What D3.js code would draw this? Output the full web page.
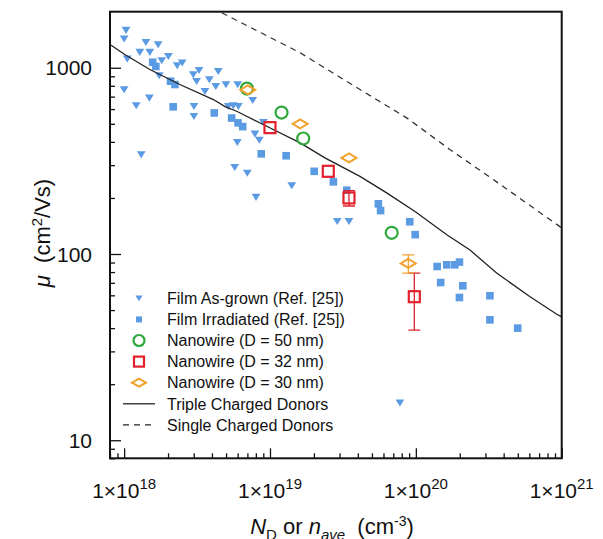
<!DOCTYPE html>
<html>
<head>
<meta charset="utf-8">
<script src="https://cdn.jsdelivr.net/npm/d3@7"></script>
<style>
  body { margin: 0; background: #fff; }
  svg { font-family: "Liberation Sans", Arial, Helvetica, sans-serif; }
</style>
</head>
<body>
<svg id="chart" width="603" height="539"></svg>
<script>
// data: [N (cm^-3), mobility (cm2/Vs)]
var filmAsGrown = [
  [1.03e18, 1592], [1.0e18, 1431], [1.41e18, 1372], [1.71e18, 1334], [1.28e18, 1213],
  [1.5e18, 1213], [1.05e18, 1117], [1.81e18, 1094], [2.01e18, 1153], [2.31e18, 1028],
  [2.5e18, 1063], [1.74e18, 908], [2.98e18, 920], [3.26e18, 970], [3.14e18, 847],
  [3.84e18, 865], [4.42e18, 958], [3.58e18, 748], [4.25e18, 796], [4.99e18, 813],
  [6.01e18, 813], [1.0e18, 764], [1.21e18, 627], [1.49e18, 689], [3.01e18, 621],
  [3.01e18, 549], [5.18e18, 621], [5.6e18, 627], [6.07e18, 621], [7.61e18, 669],
  [5.97e18, 398], [7.89e18, 442], [8.45e18, 409], [1.31e18, 342], [5.73e18, 292],
  [6.99e18, 272], [9.0e18, 510], [8.02e18, 202], [1.41e19, 233], [2.89e19, 150],
  [3.48e19, 150], [7.78e19, 15.9]
];
var filmIrradiated = [
  [1.57e18, 1071], [1.65e18, 1016], [2.08e18, 847], [2.23e18, 813], [2.17e18, 617],
  [4.15e18, 572], [5.46e18, 537], [6.04e18, 506], [6.5e18, 483], [8.71e18, 345],
  [1.29e19, 337], [2.01e19, 278], [2.72e19, 244], [3.36e19, 220], [5.53e19, 186],
  [5.73e19, 171], [9.08e19, 149], [9.9e19, 127], [1.4e20, 85.7], [1.63e20, 87.5],
  [1.85e20, 87.5], [1.99e20, 90.5], [1.48e20, 70.3], [2.1e20, 67.5], [1.99e20, 58.4],
  [3.22e20, 59.7], [3.22e20, 44.3], [4.99e20, 40]
];
// [N, mobility, error]
var nw50 = [[6.95e18, 773, 0], [1.2e19, 575, 0], [1.69e19, 417, 0], [6.83e19, 130, 0]];
var nw32 = [[1.0e19, 477, 0], [2.51e19, 278, 0], [3.48e19, 200, 19], [9.76e19, 59, 20]];
var nw30 = [[7.05e18, 761, 0], [1.61e19, 500, 0], [3.48e19, 328, 0], [8.88e19, 89, 10]];

var tripleDonors = [
  [8e17, 1334], [1.01e18, 1178], [1.5e18, 979], [2.41e18, 813], [4.09e18, 675],
  [4.92e18, 619], [5.91e18, 584], [9.5e18, 485], [1.61e19, 395], [2.38e19, 328],
  [4.14e19, 261], [6.31e19, 213], [9.87e19, 169], [1.63e20, 127], [2.35e20, 105],
  [3.58e20, 79], [6.07e20, 59], [9.25e20, 47.5], [1e21, 46]
];
var singleDonors = [
  [4.0e18, 2100], [1.61e19, 1203], [4.14e19, 764], [8.66e19, 538], [1.71e20, 364],
  [3.4e20, 251], [1e21, 138]
];

var xMajor = [1e18, 1e19, 1e20, 1e21];
var xExponents = ["18", "19", "20", "21"];
var yMajor = [10, 100, 1000];
var yLabels = ["10", "100", "1000"];

var legendLabels = [
  "Film As-grown (Ref. [25])",
  "Film Irradiated (Ref. [25])",
  "Nanowire (D = 50 nm)",
  "Nanowire (D = 32 nm)",
  "Nanowire (D = 30 nm)",
  "Triple Charged Donors",
  "Single Charged Donors"
];

var blue = "#5b9be3", green = "#2ea83a", red = "#e3202c", orange = "#f2a12c";

// plot box (window.top is reserved, so no plain "top")
var boxL = 110, boxR = 561.7, boxT = 11.7, boxB = 458.3;

var x = d3.scaleLog().domain([8e17, 1e21]).range([boxL, boxR]);
var y = d3.scaleLog().domain([8, 2000]).range([boxB, boxT]);

var svg = d3.select("#chart");

svg.append("clipPath").attr("id", "plotclip")
  .append("rect").attr("x", boxL).attr("y", boxT)
  .attr("width", boxR - boxL).attr("height", boxB - boxT);

// minor tick values
var xMinor = [];
for (var d = 17; d <= 20; d++) {
  for (var k = 2; k <= 9; k++) {
    var v = k * Math.pow(10, d);
    if (v >= 8e17 && v < 1e21) xMinor.push(v);
  }
}
var yMinor = [];
for (var d2 = 0; d2 <= 3; d2++) {
  for (var k2 = 2; k2 <= 9; k2++) {
    var v2 = k2 * Math.pow(10, d2);
    if (v2 >= 8 && v2 < 2000) yMinor.push(v2);
  }
}

// axes (ticks inward)
function drawAxis(axis, tx, ty) {
  var g = svg.append("g").attr("transform", "translate(" + tx + "," + ty + ")").call(axis);
  g.select(".domain").remove();
  g.selectAll("line").attr("stroke", "#111").attr("stroke-width", 1.3);
  return g;
}
drawAxis(d3.axisBottom(x).tickValues(xMajor).tickSize(-10).tickFormat(""), 0, boxB);
drawAxis(d3.axisBottom(x).tickValues(xMinor).tickSize(-5).tickFormat(""), 0, boxB);
drawAxis(d3.axisLeft(y).tickValues(yMajor).tickSize(-11).tickFormat(""), boxL, 0);
drawAxis(d3.axisLeft(y).tickValues(yMinor).tickSize(-5).tickFormat(""), boxL, 0);

// tick labels
var xl = svg.append("g").selectAll("text").data(xMajor).enter().append("text")
  .attr("x", function(v) { return x(v); })
  .attr("y", 498)
  .attr("text-anchor", "middle")
  .attr("font-size", 21)
  .attr("fill", "#111");
xl.append("tspan").text("1×10");
xl.append("tspan").attr("dy", -9).attr("font-size", 15)
  .text(function(v, i) { return xExponents[i]; });

svg.append("g").selectAll("text").data(yMajor).enter().append("text")
  .attr("x", 92)
  .attr("y", function(v) { return y(v); })
  .attr("dy", "0.36em")
  .attr("text-anchor", "end")
  .attr("font-size", 21)
  .attr("fill", "#111")
  .text(function(v, i) { return yLabels[i]; });

// axis titles
var xt = svg.append("text").attr("x", 332).attr("y", 534)
  .attr("text-anchor", "middle").attr("font-size", 22).attr("fill", "#111");
xt.append("tspan").attr("font-style", "italic").text("N");
xt.append("tspan").attr("dy", 6).attr("font-size", 15).text("D");
xt.append("tspan").attr("dy", -6).text(" or ");
xt.append("tspan").attr("font-style", "italic").text("n");
xt.append("tspan").attr("dy", 6).attr("font-size", 15).attr("font-style", "italic").text("ave");
xt.append("tspan").attr("dy", -6).text("\u00a0\u00a0(cm");
xt.append("tspan").attr("dy", -8).attr("font-size", 14).text("-3");
xt.append("tspan").attr("dy", 8).text(")");

var yt = svg.append("text")
  .attr("transform", "translate(50,233) rotate(-90)")
  .attr("text-anchor", "middle").attr("font-size", 22).attr("fill", "#111");
yt.append("tspan").attr("font-style", "italic").text("μ");
yt.append("tspan").text("\u00a0\u00a0(cm");
yt.append("tspan").attr("dy", -8).attr("font-size", 15).text("2");
yt.append("tspan").attr("dy", 8).text("/Vs)");

// marker shapes
function triDown(s) { return "M" + (-s) + "," + (-s * 0.75) + "L" + s + "," + (-s * 0.75) + "L0," + (s * 0.85) + "Z"; }
function diamond(w, h) { return "M" + (-w) + ",0L0," + (-h) + "L" + w + ",0L0," + h + "Z"; }

var plot = svg.append("g").attr("clip-path", "url(#plotclip)");

plot.selectAll(".tri").data(filmAsGrown).enter().append("path")
  .attr("class", "tri")
  .attr("transform", function(p) { return "translate(" + x(p[0]) + "," + y(p[1]) + ")"; })
  .attr("d", triDown(4.4))
  .attr("fill", blue);

plot.selectAll(".sq").data(filmIrradiated).enter().append("rect")
  .attr("class", "sq")
  .attr("x", function(p) { return x(p[0]) - 3.8; })
  .attr("y", function(p) { return y(p[1]) - 3.8; })
  .attr("width", 7.6).attr("height", 7.6)
  .attr("fill", blue);

// model lines
var line = d3.line().x(function(p) { return x(p[0]); }).y(function(p) { return y(p[1]); });
plot.append("path").datum(tripleDonors).attr("d", line)
  .attr("fill", "none").attr("stroke", "#222").attr("stroke-width", 1.3);
plot.append("path").datum(singleDonors).attr("d", line)
  .attr("fill", "none").attr("stroke", "#333").attr("stroke-width", 1.3)
  .attr("stroke-dasharray", "6,5");

// error bars
function errorBars(data, color) {
  var withErr = data.filter(function(p) { return p[2] > 0; });
  var g = plot.append("g").attr("stroke", color).attr("stroke-width", 1.3);
  withErr.forEach(function(p) {
    var cx = x(p[0]), y1 = y(p[1] + p[2]), y2 = y(p[1] - p[2]);
    g.append("line").attr("x1", cx).attr("x2", cx).attr("y1", y1).attr("y2", y2);
    g.append("line").attr("x1", cx - 6).attr("x2", cx + 6).attr("y1", y1).attr("y2", y1);
    g.append("line").attr("x1", cx - 6).attr("x2", cx + 6).attr("y1", y2).attr("y2", y2);
  });
}
errorBars(nw32, red);
errorBars(nw30, orange);

plot.selectAll(".c50").data(nw50).enter().append("circle")
  .attr("class", "c50")
  .attr("cx", function(p) { return x(p[0]); })
  .attr("cy", function(p) { return y(p[1]); })
  .attr("r", 6)
  .attr("fill", "none").attr("stroke", green).attr("stroke-width", 2.2);

plot.selectAll(".s32").data(nw32).enter().append("rect")
  .attr("class", "s32")
  .attr("x", function(p) { return x(p[0]) - 5.5; })
  .attr("y", function(p) { return y(p[1]) - 5.5; })
  .attr("width", 11).attr("height", 11)
  .attr("fill", "none").attr("stroke", red).attr("stroke-width", 2.2);

plot.selectAll(".d30").data(nw30).enter().append("path")
  .attr("class", "d30")
  .attr("transform", function(p) { return "translate(" + x(p[0]) + "," + y(p[1]) + ")"; })
  .attr("d", diamond(7.5, 4.5))
  .attr("fill", "none").attr("stroke", orange).attr("stroke-width", 2);

// frame
svg.append("rect").attr("x", boxL).attr("y", boxT)
  .attr("width", boxR - boxL).attr("height", boxB - boxT)
  .attr("fill", "none").attr("stroke", "#111").attr("stroke-width", 2);

// legend
var legY0 = 298.3, legStep = 21.1, symX = 139, txtX = 167;
var leg = svg.append("g");
legendLabels.forEach(function(label, i) {
  var ly = legY0 + i * legStep;
  if (i === 0) {
    leg.append("path").attr("transform", "translate(" + symX + "," + ly + ")")
      .attr("d", triDown(3.6)).attr("fill", blue);
  } else if (i === 1) {
    leg.append("rect").attr("x", symX - 3).attr("y", ly - 3).attr("width", 6).attr("height", 6).attr("fill", blue);
  } else if (i === 2) {
    leg.append("circle").attr("cx", symX).attr("cy", ly).attr("r", 5.5)
      .attr("fill", "none").attr("stroke", green).attr("stroke-width", 2.2);
  } else if (i === 3) {
    leg.append("rect").attr("x", symX - 5).attr("y", ly - 5).attr("width", 10).attr("height", 10)
      .attr("fill", "none").attr("stroke", red).attr("stroke-width", 2.2);
  } else if (i === 4) {
    leg.append("path").attr("transform", "translate(" + symX + "," + ly + ")")
      .attr("d", diamond(7, 4)).attr("fill", "none").attr("stroke", orange).attr("stroke-width", 2);
  } else {
    leg.append("line").attr("x1", symX - 16).attr("x2", symX + 16).attr("y1", ly).attr("y2", ly)
      .attr("stroke", "#222").attr("stroke-width", 1.3)
      .attr("stroke-dasharray", i === 6 ? "6,5" : null);
  }
  leg.append("text").attr("x", txtX).attr("y", ly).attr("dy", "0.36em")
    .attr("font-size", 16).attr("fill", "#111").text(label);
});
</script>
</body>
</html>
